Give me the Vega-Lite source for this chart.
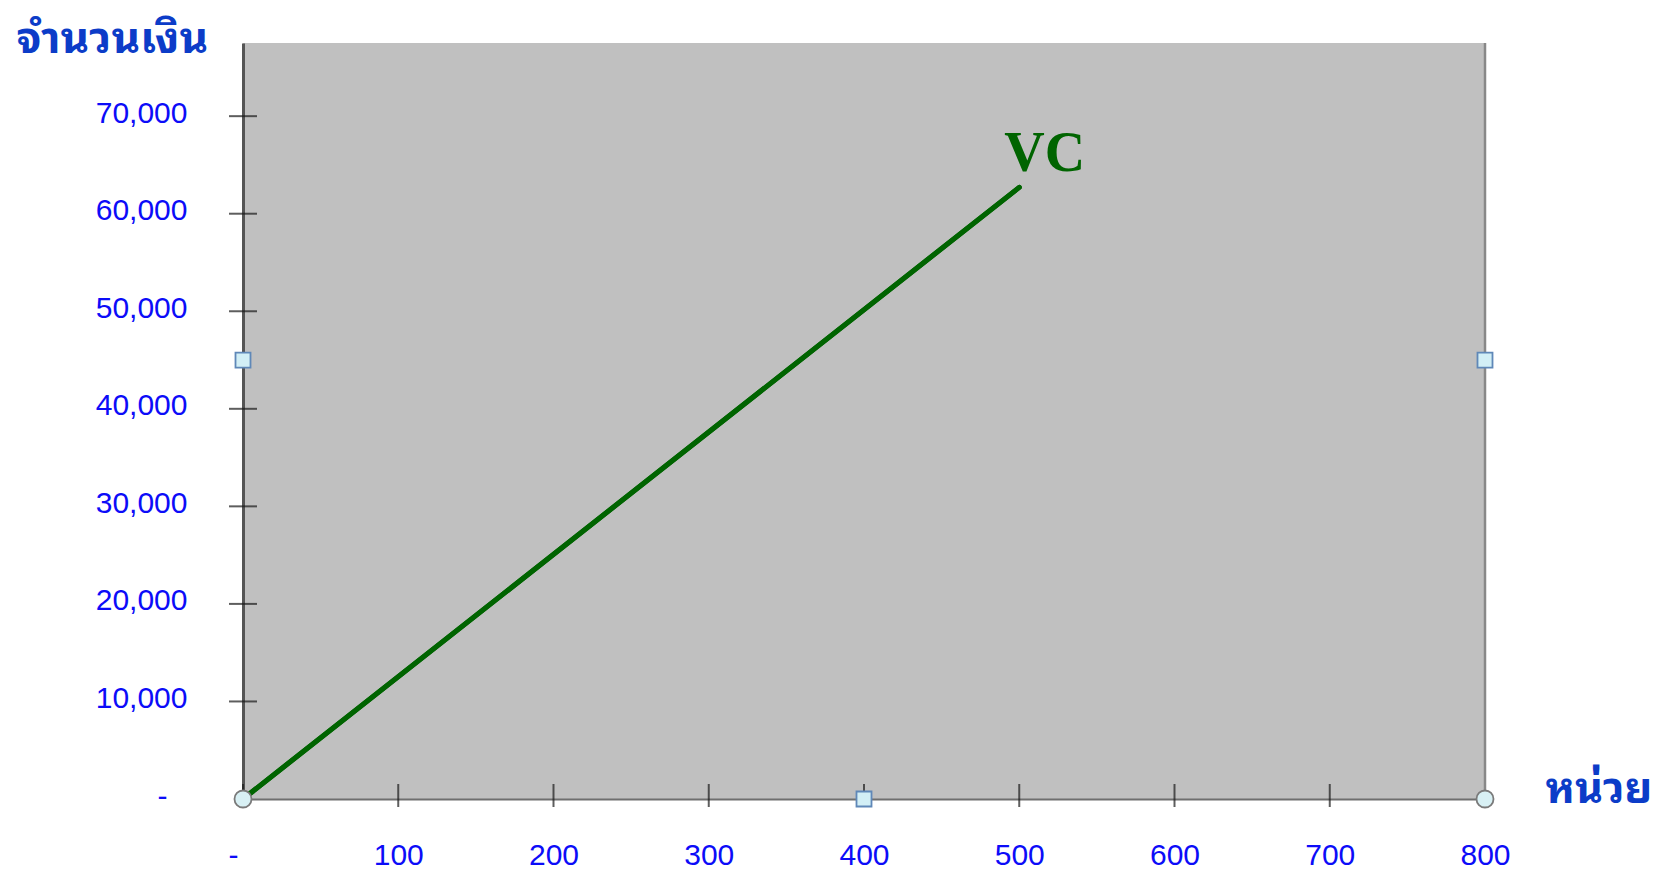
{
  "$schema": "https://vega.github.io/schema/vega-lite/v6.json",
  "width": 1242,
  "height": 756,
  "autosize": {"type": "none"},
  "padding": {"left": 243, "top": 43, "right": 181, "bottom": 80},
  "background": "white",
  "config": {
    "view": {"fill": "#C0C0C0", "stroke": null},
    "axis": {
      "grid": false,
      "ticks": false,
      "labelFont": "Liberation Sans",
      "labelFontSize": 30,
      "labelColor": "#0c0cf8",
      "labelFlush": false,
      "labelOverlap": false,
      "titleFont": "Noto Sans Thai Looped, Tahoma, Loma, Garuda, Noto Sans Thai, Noto Sans",
      "titleFontWeight": "bold",
      "titleColor": "#0c3cc8",
      "titleAngle": 0,
      "titleAlign": "left",
      "titleBaseline": "alphabetic"
    }
  },
  "datasets": {
    "vc": [{"units": 0, "amount": 0}, {"units": 500, "amount": 62700}],
    "vclabel": [{"units": 500, "amount": 62700, "label": "VC"}],
    "yticks": [{"amount": 10000}, {"amount": 20000}, {"amount": 30000}, {"amount": 40000}, {"amount": 50000}, {"amount": 60000}, {"amount": 70000}],
    "xticks": [{"units": 0}, {"units": 100}, {"units": 200}, {"units": 300}, {"units": 400}, {"units": 500}, {"units": 600}, {"units": 700}, {"units": 800}],
    "squares": [{"units": 0, "amount": 45000}, {"units": 800, "amount": 45000}, {"units": 400, "amount": 0}],
    "circles": [{"units": 0, "amount": 0}, {"units": 800, "amount": 0}]
  },
  "layer": [
    {
      "data": {"name": "vc"},
      "mark": {"type": "line", "color": "#006400", "strokeWidth": 5, "strokeCap": "round"},
      "encoding": {
        "x": {
          "field": "units", "type": "quantitative",
          "scale": {"domain": [0, 800], "nice": false, "zero": true},
          "axis": {
            "values": [0, 100, 200, 300, 400, 500, 600, 700, 800],
            "labelExpr": "datum.value == 0 ? '-' : format(datum.value, ',')",
            "labelPadding": 41,
            "labelOffset": {"condition": {"test": "datum.value == 0", "value": -10}, "value": 0},
            "domainColor": "#6e6e6e",
            "domainWidth": 2,
            "title": "หน่วย",
            "titleFontSize": 43,
            "titleX": 1302,
            "titleY": 3
          }
        },
        "y": {
          "field": "amount", "type": "quantitative",
          "scale": {"domain": [0, 77500], "nice": false, "zero": true},
          "axis": {
            "values": [0, 10000, 20000, 30000, 40000, 50000, 60000, 70000],
            "labelExpr": "datum.value == 0 ? '-' : format(datum.value, ',')",
            "labelPadding": {"condition": {"test": "datum.value == 0", "value": 76}, "value": 56},
            "labelOffset": -3,
            "domainColor": "#555555",
            "domainWidth": 3,
            "title": "จำนวนเงิน",
            "titleFontSize": 44,
            "titleX": -227,
            "titleY": 9
          }
        }
      }
    },
    {
      "data": {"name": "yticks"},
      "mark": {"type": "tick", "orient": "horizontal", "color": "#1a1a1a", "thickness": 2, "size": 28},
      "encoding": {
        "y": {"field": "amount", "type": "quantitative"},
        "x": {"datum": 0, "type": "quantitative"}
      }
    },
    {
      "data": {"name": "xticks"},
      "mark": {"type": "tick", "orient": "vertical", "color": "#1a1a1a", "thickness": 2, "size": 23, "yOffset": -3.5},
      "encoding": {
        "x": {"field": "units", "type": "quantitative"},
        "y": {"datum": 0, "type": "quantitative"}
      }
    },
    {
      "data": {"name": "xticks"},
      "transform": [{"filter": "datum.units == 800"}],
      "mark": {"type": "rule", "color": "#888888", "strokeWidth": 2.5},
      "encoding": {
        "x": {"field": "units", "type": "quantitative"},
        "y": {"datum": 0, "type": "quantitative"},
        "y2": {"datum": 77500}
      }
    },
    {
      "data": {"name": "vc"},
      "mark": {"type": "line", "color": "#006400", "strokeWidth": 5, "strokeCap": "round"},
      "encoding": {
        "x": {"field": "units", "type": "quantitative"},
        "y": {"field": "amount", "type": "quantitative"}
      }
    },
    {
      "data": {"name": "vclabel"},
      "mark": {"type": "text", "font": "Liberation Serif", "fontWeight": "bold", "fontSize": 56, "color": "#006400", "align": "left", "baseline": "alphabetic", "dx": -15, "dy": -16},
      "encoding": {
        "x": {"field": "units", "type": "quantitative"},
        "y": {"field": "amount", "type": "quantitative"},
        "text": {"field": "label"}
      }
    },
    {
      "data": {"name": "squares"},
      "mark": {"type": "point", "shape": "square", "filled": true, "fill": "#d2eff6", "stroke": "#5f88b8", "strokeWidth": 1.8, "size": 225, "opacity": 1},
      "encoding": {
        "x": {"field": "units", "type": "quantitative"},
        "y": {"field": "amount", "type": "quantitative"}
      }
    },
    {
      "data": {"name": "circles"},
      "mark": {"type": "point", "shape": "circle", "filled": true, "fill": "#d8f0f4", "stroke": "#7a7a7a", "strokeWidth": 1.8, "size": 290, "opacity": 1},
      "encoding": {
        "x": {"field": "units", "type": "quantitative"},
        "y": {"field": "amount", "type": "quantitative"}
      }
    }
  ]
}
